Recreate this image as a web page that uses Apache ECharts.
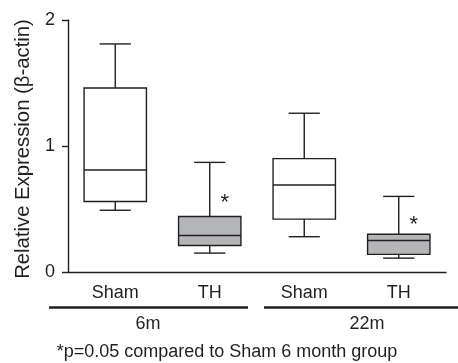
<!DOCTYPE html>
<html>
<head>
<meta charset="utf-8">
<script src="https://cdn.jsdelivr.net/npm/echarts@6/dist/echarts.min.js"></script>
<style>
html,body{margin:0;padding:0;background:#fff;}
#main{width:458px;height:363px;}
</style>
</head>
<body>
<div id="main"></div>
<script>
// 数据
var categories = ['Sham', 'TH', 'Sham', 'TH'];
// [min, Q1, median, Q3, max]
var boxValues = [
	[0.49, 0.56, 0.81, 1.46, 1.81],
	[0.15, 0.21, 0.29, 0.44, 0.87],
	[0.28, 0.42, 0.69, 0.90, 1.26],
	[0.11, 0.14, 0.25, 0.30, 0.60]
];
var boxFills = ['#ffffff', '#b4b5b7', '#ffffff', '#b4b5b7'];
var starValues = [null, 0.545, null, 0.375];
var yTicks = [0, 1, 2];
var yName = 'Relative Expression (β-actin)';
var groups = ['6m', '22m'];
var footnote = '*p=0.05 compared to Sham 6 month group';

var font = 'Liberation Sans';
var ink = '#231f20';

var boxData = [];
for (var i = 0; i < boxValues.length; i++) {
	boxData.push([i].concat(boxValues[i]));
}
var starData = [];
for (var j = 0; j < starValues.length; j++) {
	if (starValues[j] != null) starData.push([j, starValues[j]]);
}

function renderBox(params, api) {
	var idx = api.value(0);
	var pMin = api.coord([idx, api.value(1)]);
	var pQ1 = api.coord([idx, api.value(2)]);
	var pMed = api.coord([idx, api.value(3)]);
	var pQ3 = api.coord([idx, api.value(4)]);
	var pMax = api.coord([idx, api.value(5)]);
	var bw = api.size([1, 0])[0] * 0.66;
	var cw = bw / 2;
	var x = pMed[0];
	var ls = { stroke: ink, lineWidth: 1.4 };
	return {
		type: 'group',
		children: [
			{ type: 'line', shape: { x1: x, y1: pMax[1], x2: x, y2: pQ3[1] }, style: ls },
			{ type: 'line', shape: { x1: x, y1: pQ1[1], x2: x, y2: pMin[1] }, style: ls },
			{ type: 'line', shape: { x1: x - cw / 2, y1: pMax[1], x2: x + cw / 2, y2: pMax[1] }, style: ls },
			{ type: 'line', shape: { x1: x - cw / 2, y1: pMin[1], x2: x + cw / 2, y2: pMin[1] }, style: ls },
			{ type: 'rect', shape: { x: x - bw / 2, y: pQ3[1], width: bw, height: pQ1[1] - pQ3[1] },
				style: { fill: boxFills[idx], stroke: ink, lineWidth: 1.4 } },
			{ type: 'line', shape: { x1: x - bw / 2, y1: pMed[1], x2: x + bw / 2, y2: pMed[1] }, style: ls }
		]
	};
}

function renderStar(params, api) {
	var p = api.coord([api.value(0), api.value(1)]);
	return {
		type: 'text',
		x: p[0] + 15,
		y: p[1],
		style: { text: '*', fill: ink, font: '22px "' + font + '"', align: 'center', verticalAlign: 'middle' }
	};
}

var myChart = echarts.init(document.getElementById('main'));
var option = {
	animation: false,
	backgroundColor: '#fff',
	textStyle: { fontFamily: font },
	grid: { left: 68, right: 12, top: 20, bottom: 91, containLabel: false, outerBoundsMode: 'none' },
	xAxis: {
		type: 'category',
		data: categories,
		boundaryGap: true,
		axisLine: { lineStyle: { color: ink, width: 1.4 } },
		axisTick: { alignWithLabel: true, length: 5, lineStyle: { color: ink, width: 1.4 } },
		axisLabel: { color: ink, fontSize: 18, margin: 12, fontFamily: font },
		splitLine: { show: false }
	},
	yAxis: {
		type: 'value',
		min: yTicks[0],
		max: yTicks[yTicks.length - 1],
		interval: 1,
		axisLine: { show: true, lineStyle: { color: ink, width: 1.4 } },
		axisTick: { show: true, length: 6, lineStyle: { color: ink, width: 1.4 } },
		axisLabel: { color: ink, fontSize: 18, margin: 13, fontFamily: font },
		splitLine: { show: false }
	},
	series: [
		{ type: 'custom', renderItem: renderBox, data: boxData, encode: { x: 0, y: [1, 2, 3, 4, 5] } },
		{ type: 'custom', renderItem: renderStar, data: starData, encode: { x: 0, y: 1 } }
	],
	graphic: [
		{ type: 'text', x: 23, y: 149, rotation: Math.PI / 2,
			style: { text: yName, fill: ink, font: '20.3px "' + font + '"', align: 'center', verticalAlign: 'middle' } },
		{ type: 'line', shape: { x1: 49, y1: 307.5, x2: 248, y2: 307.5 }, style: { stroke: ink, lineWidth: 2.5 } },
		{ type: 'line', shape: { x1: 264, y1: 307.5, x2: 458, y2: 307.5 }, style: { stroke: ink, lineWidth: 2.5 } },
		{ type: 'text', x: 148, y: 324, style: { text: groups[0], fill: ink, font: '18px "' + font + '"', align: 'center', verticalAlign: 'middle' } },
		{ type: 'text', x: 367, y: 324, style: { text: groups[1], fill: ink, font: '18px "' + font + '"', align: 'center', verticalAlign: 'middle' } },
		{ type: 'text', x: 227, y: 352, style: { text: footnote, fill: ink, font: '18px "' + font + '"', align: 'center', verticalAlign: 'middle' } }
	]
};
myChart.setOption(option);
</script>
</body>
</html>
